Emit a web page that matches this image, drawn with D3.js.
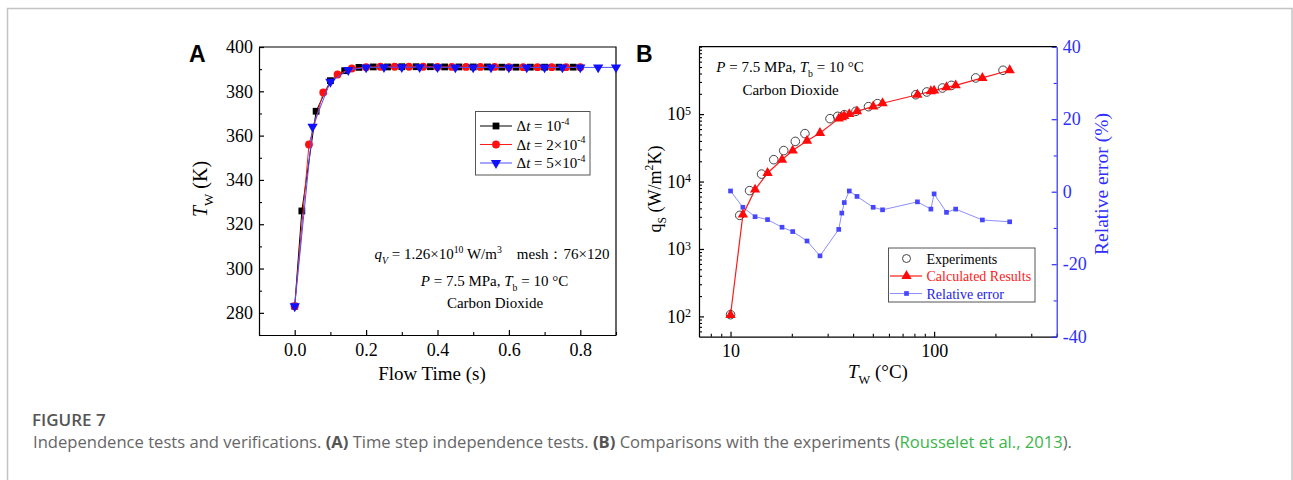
<!DOCTYPE html>
<html><head><meta charset="utf-8">
<script src="https://cdn.jsdelivr.net/npm/d3@7"></script>
<style>body{margin:0;background:#fff}svg{display:block}</style>
</head><body>
<svg id="c" width="1293" height="480"></svg>
<script>
// ---------- Panel A data ----------
const timeDt1 = [0, 0.02, 0.06, 0.10, 0.14, 0.18, 0.22, 0.26, 0.30, 0.34, 0.38, 0.42, 0.46, 0.50, 0.54, 0.58, 0.62, 0.66, 0.70, 0.74, 0.78];
const tempDt1 = [283, 326, 371, 384.8, 389.3, 390.8, 391, 391, 391.1, 391.1, 391.1, 391, 391, 391, 391, 390.9, 390.9, 390.9, 390.9, 390.9, 390.9];
const timeDt2 = [0, 0.04, 0.08, 0.12, 0.16, 0.20, 0.24, 0.28, 0.32, 0.36, 0.40, 0.44, 0.48, 0.52, 0.56, 0.60, 0.64, 0.68, 0.72, 0.76, 0.80];
const tempDt2 = [283, 356, 379.5, 387.6, 390.3, 390.9, 391.1, 391.1, 391.1, 391.1, 391, 391, 391, 391, 391, 390.9, 390.9, 390.9, 390.9, 390.9, 390.9];
const timeDt5 = [0, 0.05, 0.10, 0.15, 0.20, 0.25, 0.30, 0.35, 0.40, 0.45, 0.50, 0.55, 0.60, 0.65, 0.70, 0.75, 0.80, 0.85, 0.90];
const tempDt5 = [283, 364, 384.3, 389.6, 390.8, 390.9, 390.9, 390.9, 390.9, 390.8, 390.8, 390.8, 390.8, 390.8, 390.8, 390.8, 390.8, 390.8, 390.8];
const xTicksA = [0, 0.2, 0.4, 0.6, 0.8];
const xMinorA = [-0.1, 0.1, 0.3, 0.5, 0.7, 0.9];
const yTicksA = [280, 300, 320, 340, 360, 380, 400];
const yMinorA = [270, 290, 310, 330, 350, 370, 390];

// ---------- Panel B data ----------
const expTemp = [10, 11.1, 12.4, 14.2, 16.3, 18.25, 20.8, 23.2, 30.8, 33.6, 36.2, 41.3, 47.6, 52.7, 81.3, 92, 109.9, 121.6, 160, 218];
const expHtc  = [106, 3150, 7330, 12900, 21100, 28800, 39400, 51400, 85700, 92700, 98200, 110000, 129000, 143000, 194000, 213000, 244000, 267000, 344000, 447000];
const calcTemp = [10, 11.5, 13.2, 15.2, 17.9, 20.2, 23.75, 27.5, 34, 35.2, 36.2, 38.3, 41.8, 50.2, 55.8, 82.8, 96.4, 100, 115, 127.6, 172.6, 235];
const calcHtc  = [105, 3230, 7590, 13400, 21100, 28800, 40400, 52500, 85700, 89800, 93800, 100000, 110000, 130000, 145000, 194000, 218000, 223000, 250000, 267000, 344000, 447000];
const relError = [0.2, -4.3, -6.9, -7.7, -9.8, -11.0, -13.6, -17.7, -10.4, -5.9, -3.0, 0.2, -1.3, -4.3, -5.0, -2.8, -4.8, -0.6, -5.7, -4.8, -7.8, -8.3];
const xTicksB = [10, 100];
const xMinorB = [7, 8, 9, 20, 30, 40, 50, 60, 70, 80, 90, 200, 300, 400];
const yTicksB = [100, 1000, 10000, 100000];
const yMinorB = [60, 70, 80, 90, 200, 300, 400, 500, 600, 700, 800, 900, 2000, 3000, 4000, 5000, 6000, 7000, 8000, 9000,
  20000, 30000, 40000, 50000, 60000, 70000, 80000, 90000, 200000, 300000, 400000, 500000, 600000, 700000, 800000, 900000, 1000000];
const yTicksB2 = [-40, -20, 0, 20, 40];
const yMinorB2 = [-30, -10, 10, 30];

const serif = "'Liberation Serif','Times New Roman',serif";
const sans = "'Liberation Sans',Arial,sans-serif";
const BLUE = "#2e2eff";
const svg = d3.select("#c");

// figure border
svg.append("rect").attr("x", 7.5).attr("y", 8.5).attr("width", 1284.5).attr("height", 520)
  .attr("fill", "none").attr("stroke", "#c4c4c4").attr("stroke-width", 1.5);

function rich(sel, segs, fs) {
  let cur = 0;
  segs.forEach(s => {
    const off = s.sub ? 0.3 * fs : s.sup ? -0.42 * fs : 0;
    const ts = sel.append("tspan").attr("dy", off - cur).text(s.t);
    cur = off;
    if (s.sub || s.sup) ts.attr("font-size", fs * 0.65);
    if (s.i) ts.attr("font-style", "italic");
  });
}
function styleAxis(g, color, fs) {
  g.attr("font-family", serif).attr("font-size", fs || 18);
  g.selectAll("path.domain").attr("stroke", color).attr("stroke-width", 1.2);
  g.selectAll(".tick line").attr("stroke", color).attr("stroke-width", 1.2);
  g.selectAll(".tick text").attr("fill", color);
}
function minor(g, axis, color) {
  g.call(axis.tickFormat("").tickSizeInner(-3).tickSizeOuter(0));
  g.select("path.domain").remove();
  g.selectAll(".tick line").attr("stroke", color).attr("stroke-width", 1.1);
}

// ================= Panel A =================
const A = {l: 259, r: 616, t: 47, b: 335};
const xA = d3.scaleLinear().domain([-0.1, 0.9]).range([A.l, A.r]);
const yA = d3.scaleLinear().domain([270, 400]).range([A.b, A.t]);

const gAx = svg.append("g").attr("transform", `translate(0,${A.b})`)
  .call(d3.axisBottom(xA).tickValues(xTicksA).tickFormat(d3.format(".1f")).tickSizeInner(-5).tickSizeOuter(0).tickPadding(8));
styleAxis(gAx, "#000");
minor(svg.append("g").attr("transform", `translate(0,${A.b})`), d3.axisBottom(xA).tickValues(xMinorA), "#000");
const gAy = svg.append("g").attr("transform", `translate(${A.l},0)`)
  .call(d3.axisLeft(yA).tickValues(yTicksA).tickSizeInner(-5).tickSizeOuter(0).tickPadding(6));
styleAxis(gAy, "#000");
minor(svg.append("g").attr("transform", `translate(${A.l},0)`), d3.axisLeft(yA).tickValues(yMinorA), "#000");
svg.append("path").attr("d", `M${A.l},${A.t}H${A.r}V${A.b}`).attr("fill", "none").attr("stroke", "#000").attr("stroke-width", 1.2);

const seriesA = [
  {t: timeDt1, v: tempDt1, line: "#000", fill: "#000", sym: d3.symbolSquare, size: 46, rot: 0},
  {t: timeDt2, v: tempDt2, line: "#ff1a1a", fill: "#ff1010", sym: d3.symbolCircle, size: 48, rot: 0},
  {t: timeDt5, v: tempDt5, line: "#4d4dff", fill: "#1010ff", sym: d3.symbolTriangle, size: 46, rot: 180}
];
const lineA = d3.line();
seriesA.forEach(s => {
  const pts = s.t.map((t, i) => [xA(t), yA(s.v[i])]);
  svg.append("path").attr("d", lineA(pts)).attr("fill", "none").attr("stroke", s.line).attr("stroke-width", 1);
  svg.append("g").selectAll("path").data(pts).join("path")
    .attr("d", d3.symbol(s.sym, s.size)())
    .attr("transform", d => `translate(${d[0]},${d[1]}) rotate(${s.rot})`)
    .attr("fill", s.fill);
});

// legend A
svg.append("rect").attr("x", 475.5).attr("y", 111.5).attr("width", 114.5).attr("height", 63.5)
  .attr("fill", "#fff").attr("stroke", "#555").attr("stroke-width", 1);
const legA = [
  {y: 126, s: seriesA[0], segs: [{t: "Δ"}, {t: "t", i: true}, {t: " = 10"}, {t: "-4", sup: true}]},
  {y: 144.5, s: seriesA[1], segs: [{t: "Δ"}, {t: "t", i: true}, {t: " = 2×10"}, {t: "-4", sup: true}]},
  {y: 163, s: seriesA[2], segs: [{t: "Δ"}, {t: "t", i: true}, {t: " = 5×10"}, {t: "-4", sup: true}]}
];
legA.forEach(e => {
  svg.append("line").attr("x1", 480).attr("x2", 512).attr("y1", e.y).attr("y2", e.y).attr("stroke", e.s.line).attr("stroke-width", 1);
  svg.append("path").attr("d", d3.symbol(e.s.sym, e.s.size)()).attr("transform", `translate(496,${e.y}) rotate(${e.s.rot})`).attr("fill", e.s.fill);
  const t = svg.append("text").attr("x", 516.5).attr("y", e.y + 5).attr("font-family", serif).attr("font-size", 15);
  rich(t, e.segs, 15);
});

// annotations A
const ann1 = svg.append("text").attr("x", 492).attr("y", 259).attr("text-anchor", "middle").attr("font-family", serif).attr("font-size", 15);
rich(ann1, [{t: "q", i: true}, {t: "V", sub: true, i: true}, {t: " = 1.26×10"}, {t: "10", sup: true}, {t: " W/m"}, {t: "3", sup: true}, {t: "\u00a0\u00a0\u00a0\u00a0mesh：76×120"}], 15);
const ann2 = svg.append("text").attr("x", 494.5).attr("y", 286).attr("text-anchor", "middle").attr("font-family", serif).attr("font-size", 15);
rich(ann2, [{t: "P", i: true}, {t: " = 7.5 MPa, "}, {t: "T", i: true}, {t: "b", sub: true}, {t: " = 10 °C"}], 15);
svg.append("text").attr("x", 495).attr("y", 308).attr("text-anchor", "middle").attr("font-family", serif).attr("font-size", 15).text("Carbon Dioxide");

// titles A
svg.append("text").attr("x", 432).attr("y", 380).attr("text-anchor", "middle").attr("font-family", serif).attr("font-size", 19).text("Flow Time (s)");
const tyA = svg.append("text").attr("transform", "translate(207,189) rotate(-90)").attr("text-anchor", "middle").attr("font-family", serif).attr("font-size", 20);
rich(tyA, [{t: "T", i: true}, {t: "W", sub: true}, {t: " (K)"}], 20);
svg.append("text").attr("x", 189).attr("y", 62).attr("font-family", sans).attr("font-weight", 700).attr("font-size", 23).text("A");

// ================= Panel B =================
const B = {l: 699, r: 1056.7, t: 46.7, b: 336.7};
const xB = d3.scaleLog().domain([7, 400]).range([B.l, B.r]);
const yB = d3.scaleLog().domain([50, 1e6]).range([B.b, B.t]);
const yB2 = d3.scaleLinear().domain([-40, 40]).range([B.b, B.t]);

const gBx = svg.append("g").attr("transform", `translate(0,${B.b})`)
  .call(d3.axisBottom(xB).tickValues(xTicksB).tickFormat(d3.format("d")).tickSizeInner(-5).tickSizeOuter(0).tickPadding(8));
styleAxis(gBx, "#000");
minor(svg.append("g").attr("transform", `translate(0,${B.b})`), d3.axisBottom(xB).tickValues(xMinorB), "#000");
const gBy = svg.append("g").attr("transform", `translate(${B.l},0)`)
  .call(d3.axisLeft(yB).tickValues(yTicksB).tickSizeInner(-5).tickSizeOuter(0).tickPadding(8));
styleAxis(gBy, "#000");
gBy.selectAll(".tick text").each(function (d) {
  const e = Math.round(Math.log10(d));
  const t = d3.select(this).text(null);
  t.append("tspan").text("10");
  t.append("tspan").attr("dy", "-0.45em").attr("font-size", 12).text(e);
});
minor(svg.append("g").attr("transform", `translate(${B.l},0)`), d3.axisLeft(yB).tickValues(yMinorB), "#000");
const gBy2 = svg.append("g").attr("transform", `translate(${B.r},0)`)
  .call(d3.axisRight(yB2).tickValues(yTicksB2).tickFormat(d => String(d)).tickSizeInner(-5).tickSizeOuter(0).tickPadding(6));
styleAxis(gBy2, BLUE);
minor(svg.append("g").attr("transform", `translate(${B.r},0)`), d3.axisRight(yB2).tickValues(yMinorB2), BLUE);
svg.append("line").attr("x1", B.l).attr("x2", B.r).attr("y1", B.t).attr("y2", B.t).attr("stroke", "#000").attr("stroke-width", 1.2);

// relative error series
const errPts = calcTemp.map((t, i) => [xB(t), yB2(relError[i])]);
svg.append("path").attr("d", d3.line()(errPts)).attr("fill", "none").attr("stroke", "#8e8eff").attr("stroke-width", 1);
svg.append("g").selectAll("path").data(errPts).join("path")
  .attr("d", d3.symbol(d3.symbolSquare, 22)()).attr("transform", d => `translate(${d[0]},${d[1]})`).attr("fill", "#4646ff");

// calculated results
const calcPts = calcTemp.map((t, i) => [xB(t), yB(calcHtc[i])]);
svg.append("path").attr("d", d3.line()(calcPts)).attr("fill", "none").attr("stroke", "#ff1a1a").attr("stroke-width", 1.2);
// experiments
svg.append("g").selectAll("circle").data(expTemp.map((t, i) => [xB(t), yB(expHtc[i])])).join("circle")
  .attr("cx", d => d[0]).attr("cy", d => d[1]).attr("r", 4.3).attr("fill", "none").attr("stroke", "#444").attr("stroke-width", 1);
svg.append("g").selectAll("path").data(calcPts).join("path")
  .attr("d", d3.symbol(d3.symbolTriangle, 46)()).attr("transform", d => `translate(${d[0]},${d[1]})`).attr("fill", "#ff0a0a");

// legend B
svg.append("rect").attr("x", 888.5).attr("y", 248).attr("width", 146.5).attr("height", 54)
  .attr("fill", "#fff").attr("stroke", "#555").attr("stroke-width", 1);
svg.append("circle").attr("cx", 906.5).attr("cy", 258.5).attr("r", 4).attr("fill", "none").attr("stroke", "#444").attr("stroke-width", 1);
svg.append("text").attr("x", 926.5).attr("y", 263.5).attr("font-family", serif).attr("font-size", 14).attr("fill", "#000").text("Experiments");
svg.append("line").attr("x1", 890).attr("x2", 922).attr("y1", 276).attr("y2", 276).attr("stroke", "#ff1a1a").attr("stroke-width", 1.2);
svg.append("path").attr("d", d3.symbol(d3.symbolTriangle, 46)()).attr("transform", "translate(906.5,276)").attr("fill", "#ff0a0a");
svg.append("text").attr("x", 926.5).attr("y", 281).attr("font-family", serif).attr("font-size", 14).attr("fill", "#ff1a1a").text("Calculated Results");
svg.append("line").attr("x1", 890).attr("x2", 922).attr("y1", 293.5).attr("y2", 293.5).attr("stroke", "#8e8eff").attr("stroke-width", 1);
svg.append("path").attr("d", d3.symbol(d3.symbolSquare, 22)()).attr("transform", "translate(906.5,293.5)").attr("fill", "#4646ff");
svg.append("text").attr("x", 926.5).attr("y", 298.5).attr("font-family", serif).attr("font-size", 14).attr("fill", "#2222ee").text("Relative error");

// annotations B
const annB = svg.append("text").attr("x", 790).attr("y", 72).attr("text-anchor", "middle").attr("font-family", serif).attr("font-size", 15);
rich(annB, [{t: "P", i: true}, {t: " = 7.5 MPa, "}, {t: "T", i: true}, {t: "b", sub: true}, {t: " = 10 °C"}], 15);
svg.append("text").attr("x", 790.5).attr("y", 95).attr("text-anchor", "middle").attr("font-family", serif).attr("font-size", 15).text("Carbon Dioxide");

// titles B
const txB = svg.append("text").attr("x", 878).attr("y", 378).attr("text-anchor", "middle").attr("font-family", serif).attr("font-size", 19);
rich(txB, [{t: "T", i: true}, {t: "W", sub: true}, {t: " (°C)"}], 19);
const tyB = svg.append("text").attr("transform", "translate(661,189) rotate(-90)").attr("text-anchor", "middle").attr("font-family", serif).attr("font-size", 18);
rich(tyB, [{t: "q"}, {t: "S", sub: true}, {t: " (W/m"}, {t: "2", sup: true}, {t: "K)"}], 18);
svg.append("text").attr("transform", "translate(1108,184) rotate(-90)").attr("text-anchor", "middle").attr("font-family", serif).attr("font-size", 19.5).attr("fill", BLUE).text("Relative error (%)");
svg.append("text").attr("x", 636).attr("y", 62).attr("font-family", sans).attr("font-weight", 700).attr("font-size", 23).text("B");

// ================= Caption =================
svg.append("text").attr("x", 32).attr("y", 425.5).attr("font-family", "'Open Sans',sans-serif").attr("font-weight", 600).attr("font-size", 17).attr("fill", "#555").text("FIGURE 7");
const cap = svg.append("text").attr("x", 33).attr("y", 448).attr("font-family", "'Open Sans',sans-serif").attr("font-size", 16.6).attr("fill", "#666");
cap.append("tspan").text("Independence tests and verifications. ");
cap.append("tspan").attr("font-weight", 700).attr("fill", "#555").text("(A)");
cap.append("tspan").text(" Time step independence tests. ");
cap.append("tspan").attr("font-weight", 700).attr("fill", "#555").text("(B)");
cap.append("tspan").text(" Comparisons with the experiments (");
cap.append("tspan").attr("fill", "#3cb54a").text("Rousselet et al., 2013");
cap.append("tspan").text(").");
</script>
</body></html>
